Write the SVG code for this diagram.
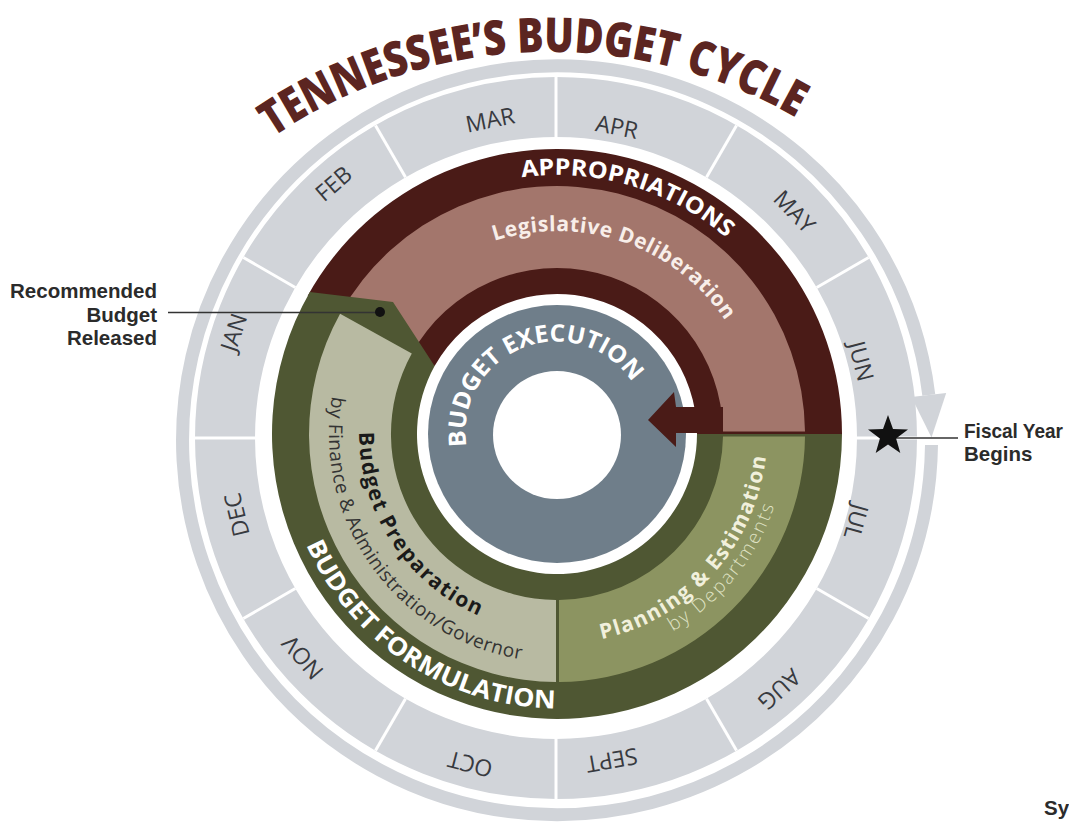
<svg xmlns="http://www.w3.org/2000/svg" width="1069" height="822" viewBox="0 0 1069 822">
<defs>
<style>
.mtx{font-family:"Open Sans","Liberation Sans",sans-serif;font-size:23px;fill:#383a3f;text-anchor:middle;dominant-baseline:central}
.div{stroke:#fff;stroke-width:3}
.lbl{font-family:"Liberation Sans",Arial,sans-serif;font-weight:bold;font-size:20.5px;fill:#2b2b2b}
.arc{font-family:"Open Sans","Liberation Sans",sans-serif}
.b{font-weight:bold}
.lead{stroke:#333;stroke-width:1.5;fill:none}
</style>
<path id="pTitle" d="M 159.8 243 A 494 494 0 0 1 916.3 214.5"/>
<path id="pAppr" d="M 316 339.1 A 259 259 0 0 1 810.8 485.6"/>
<path id="pLeg" d="M 371.6 351.4 A 203 203 0 0 1 754 483.1"/>
<path id="pExec" d="M 471.6 465.4 A 91 91 0 0 1 641.3 399.6"/>
<path id="pForm" d="M 315.3 303.9 A 274.5 274.5 0 0 0 772.4 604.1"/>
<path id="pPrep" d="M 435.1 278 A 198 198 0 0 0 650 608.8"/>
<path id="pFin" d="M 408.3 261.2 A 228 228 0 0 0 673.4 630.1"/>
<path id="pPlan" d="M 430.6 601.7 A 210 210 0 0 0 710.6 290.8"/>
<path id="pDept" d="M 428.9 623.8 A 229 229 0 0 0 716.1 269.3"/>
</defs>
<rect width="1069" height="822" fill="#fff"/>

<g id="title">
<text class="arc" font-weight="800" font-size="48" fill="#5c2521" text-anchor="middle"><textPath href="#pTitle" startOffset="50%" textLength="552" lengthAdjust="spacingAndGlyphs">TENNESSEE’S BUDGET CYCLE</textPath></text>
</g>

<g id="cycle-arrow">
<path d="M 931.5 445 A 374.5 374.5 0 1 1 928.8 395" fill="none" stroke="#d1d4d9" stroke-width="13"/>
<polygon points="911.4,397.1 946.2,392.9 931.5,437.5" fill="#d1d4d9"/>
</g>

<g id="months">
<circle cx="556" cy="438" r="331" fill="none" stroke="#d1d4d9" stroke-width="60"/>
<g class="div">
<line x1="857" y1="438" x2="917" y2="438"/>
<line x1="816.7" y1="588.5" x2="868.6" y2="618.5"/>
<line x1="706.5" y1="698.7" x2="736.5" y2="750.6"/>
<line x1="556" y1="739" x2="556" y2="799"/>
<line x1="405.5" y1="698.7" x2="375.5" y2="750.6"/>
<line x1="295.3" y1="588.5" x2="243.4" y2="618.5"/>
<line x1="255" y1="438" x2="195" y2="438"/>
<line x1="295.3" y1="287.5" x2="243.4" y2="257.5"/>
<line x1="405.5" y1="177.3" x2="375.5" y2="125.4"/>
<line x1="556" y1="137" x2="556" y2="77"/>
<line x1="706.5" y1="177.3" x2="736.5" y2="125.4"/>
<line x1="816.7" y1="287.5" x2="868.6" y2="257.5"/>
</g>
<g id="m-jul"><text class="mtx" transform="translate(857 522) rotate(105.5)">JUL</text></g>
<g id="m-aug"><text class="mtx" transform="translate(780 690) rotate(138)">AUG</text></g>
<g id="m-sept"><text class="mtx" transform="translate(612 761) rotate(170)">SEPT</text></g>
<g id="m-oct"><text class="mtx" transform="translate(470 765) rotate(194.6)">OCT</text></g>
<g id="m-nov"><text class="mtx" transform="translate(302 658) rotate(229.5)">NOV</text></g>
<g id="m-dec"><text class="mtx" transform="translate(236 515) rotate(256.6)">DEC</text></g>
<g id="m-jan"><text class="mtx" transform="translate(233 332) rotate(288.6)">JAN</text></g>
<g id="m-feb"><text class="mtx" transform="translate(333 183) rotate(319.2)">FEB</text></g>
<g id="m-mar"><text class="mtx" transform="translate(490 119) rotate(348.6)">MAR</text></g>
<g id="m-apr"><text class="mtx" transform="translate(617 126) rotate(11.2)">APR</text></g>
<g id="m-may"><text class="mtx" transform="translate(795 211) rotate(46.3)">MAY</text></g>
<g id="m-jun"><text class="mtx" transform="translate(862 361) rotate(75.6)">JUN</text></g>
</g>

<g id="appropriations">
<path d="M 307.7 295.8 A 285 285 0 0 1 842 434 L 697 434 A 140 140 0 0 0 434.6 366.1 Z" fill="#4a1b17"/>
<text class="arc b" font-size="23" fill="#fff" text-anchor="middle"><textPath href="#pAppr" startOffset="50%" textLength="220" lengthAdjust="spacingAndGlyphs">APPROPRIATIONS</textPath></text>
</g>

<g id="legislative-deliberation">
<path d="M 340.1 313.8 A 248 248 0 0 1 805 431.5 L 723 431.5 A 166 166 0 0 0 411.8 353.5 Z" fill="#a3766c"/>
<text class="arc b" font-size="21" fill="#f8eee9" text-anchor="middle"><textPath href="#pLeg" startOffset="50%" textLength="262" lengthAdjust="spacing">Legislative Deliberation</textPath></text>
</g>

<g id="budget-formulation">
<path d="M 842 434 A 285 285 0 1 1 309.9 291.9 L 393 302 L 434.6 366.1 A 140 140 0 1 0 697 434 Z" fill="#4f5733"/>
<text class="arc b" font-size="25" fill="#fff" text-anchor="middle"><textPath href="#pForm" startOffset="50%" textLength="315" lengthAdjust="spacingAndGlyphs">BUDGET FORMULATION</textPath></text>
</g>

<g id="budget-preparation">
<path d="M 556 682 A 248 248 0 0 1 340.1 313.8 L 411.8 353.5 A 166 166 0 0 0 556 600 Z" fill="#b8baa2"/>
<text class="arc b" font-size="21" fill="#1a1a1a" text-anchor="middle"><textPath href="#pPrep" startOffset="50%" textLength="232" lengthAdjust="spacing">Budget Preparation</textPath></text>
<text class="arc" font-size="19" fill="#333" text-anchor="middle"><textPath href="#pFin" startOffset="50%" textLength="360" lengthAdjust="spacing">by Finance &amp; Administration/Governor</textPath></text>
</g>

<g id="planning-estimation">
<path d="M 805 436.5 A 248 248 0 0 1 559 682 L 559 600 A 166 166 0 0 0 723 436.5 Z" fill="#8c9461"/>
<text class="arc b" font-size="21" fill="#f1f0dc" text-anchor="middle"><textPath href="#pPlan" startOffset="50%" textLength="262" lengthAdjust="spacing">Planning &amp; Estimation</textPath></text>
<text class="arc" font-size="19" font-weight="300" fill="#dfe2c4" text-anchor="middle"><textPath href="#pDept" startOffset="50%" textLength="165" lengthAdjust="spacing">by Departments</textPath></text>
</g>

<g id="budget-execution">
<circle cx="557" cy="434" r="129" fill="#6f7e8a"/>
<circle cx="557" cy="435" r="64" fill="#fff"/>
<text class="arc b" font-size="24" fill="#fff" text-anchor="middle"><textPath href="#pExec" startOffset="50%" textLength="246" lengthAdjust="spacingAndGlyphs">BUDGET EXECUTION</textPath></text>
</g>

<g id="connectors">
<polygon id="exec-arrow" points="723,407 676,407 674,392 648,420 676,447 676,433 723,433" fill="#4a1b17"/>
<line class="lead" x1="168" y1="312.5" x2="380" y2="312.5"/>
<circle cx="380" cy="312" r="5" fill="#111"/>
<line class="lead" x1="888" y1="438" x2="958" y2="438"/>
</g>

<g id="fiscal-star">
<polygon points="888,415 893,429.1 908,429.5 896.1,438.6 900.3,453 888,444.5 875.7,453 879.9,438.6 868,429.5 883,429.1" fill="#111"/>
</g>

<g id="recommended-label">
<text class="lbl" text-anchor="end" x="157" y="298">Recommended</text>
<text class="lbl" text-anchor="end" x="157" y="322">Budget</text>
<text class="lbl" text-anchor="end" x="157" y="345">Released</text>
</g>

<g id="fiscal-label">
<text class="lbl" x="964" y="438" textLength="99" lengthAdjust="spacingAndGlyphs">Fiscal Year</text>
<text class="lbl" x="964" y="461">Begins</text>
</g>

<g id="corner-text">
<text class="lbl" x="1044" y="815" font-size="21" fill="#5c2521">Sy</text>
</g>
</svg>
